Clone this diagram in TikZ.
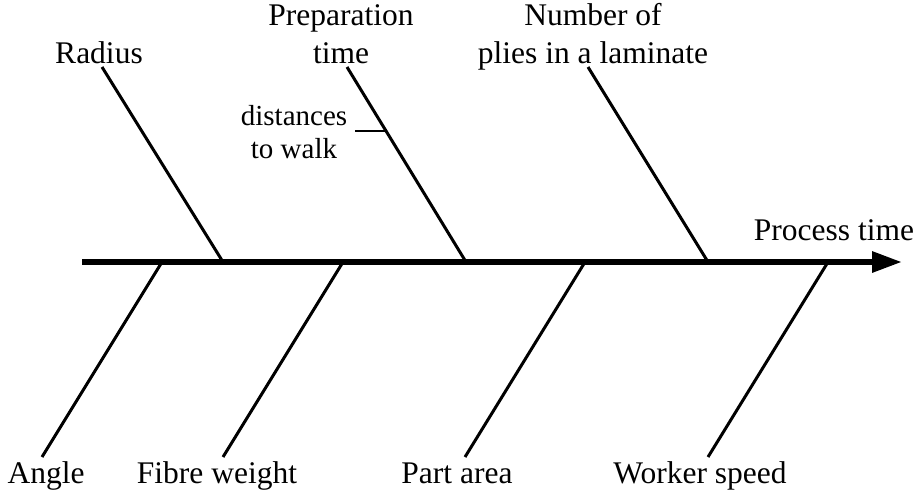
\documentclass[tikz,border=0pt]{standalone}
\usepackage{fontspec}
\setmainfont{Liberation Serif}
\usetikzlibrary{arrows.meta}
\begin{document}
\begin{tikzpicture}[x=1pt,y=-1pt,
  lbl/.style={anchor=base,inner sep=0pt,align=center,font=\fontsize{31.5}{38}\selectfont},
  small/.style={anchor=base,inner sep=0pt,align=center,font=\fontsize{29}{33}\selectfont},
  bone/.style={line width=3pt},
  spine/.style={line width=6pt,-{Triangle[length=30pt,width=20pt]}}]
\useasboundingbox (0,0) rectangle (917,490);
% spine
\coordinate (s0) at (82,262);
\coordinate (s1) at (902,262);
\draw[spine] (s0) -- (s1);
% top bones
\coordinate (r1) at (102,67);  \coordinate (r2) at (223,262);
\coordinate (p1) at (347,67);  \coordinate (p2) at (466,262);
\coordinate (n1) at (588,67);  \coordinate (n2) at (708,262);
\draw[bone] (r1) -- (r2);
\draw[bone] (p1) -- (p2);
\draw[bone] (n1) -- (n2);
% sub bone
\coordinate (d1) at (355,131); \coordinate (d2) at (386,131);
\draw[line width=1.5pt] (d1) -- (d2);
% bottom bones
\coordinate (a1) at (162,262); \coordinate (a2) at (42,457);
\coordinate (f1) at (343,262); \coordinate (f2) at (223,457);
\coordinate (pa1) at (585,262); \coordinate (pa2) at (465,457);
\coordinate (w1) at (828,262); \coordinate (w2) at (708,457);
\draw[bone] (a1) -- (a2);
\draw[bone] (f1) -- (f2);
\draw[bone] (pa1) -- (pa2);
\draw[bone] (w1) -- (w2);
% labels
\node[lbl] (radius) at (99,63) {Radius};
\node[lbl] (prep) at (341,63) {Preparation\\time};
\node[lbl] (num) at (593,63) {Number of\\plies in a laminate};
\node[small] (dist) at (294,158) {distances\\to walk};
\node[lbl] (proc) at (834,240) {Process time};
\node[lbl] (angle) at (46,483) {Angle};
\node[lbl] (fibre) at (217,483) {Fibre weight};
\node[lbl] (part) at (457,483) {Part area};
\node[lbl] (worker) at (700,483) {Worker speed};
\end{tikzpicture}
\end{document}
